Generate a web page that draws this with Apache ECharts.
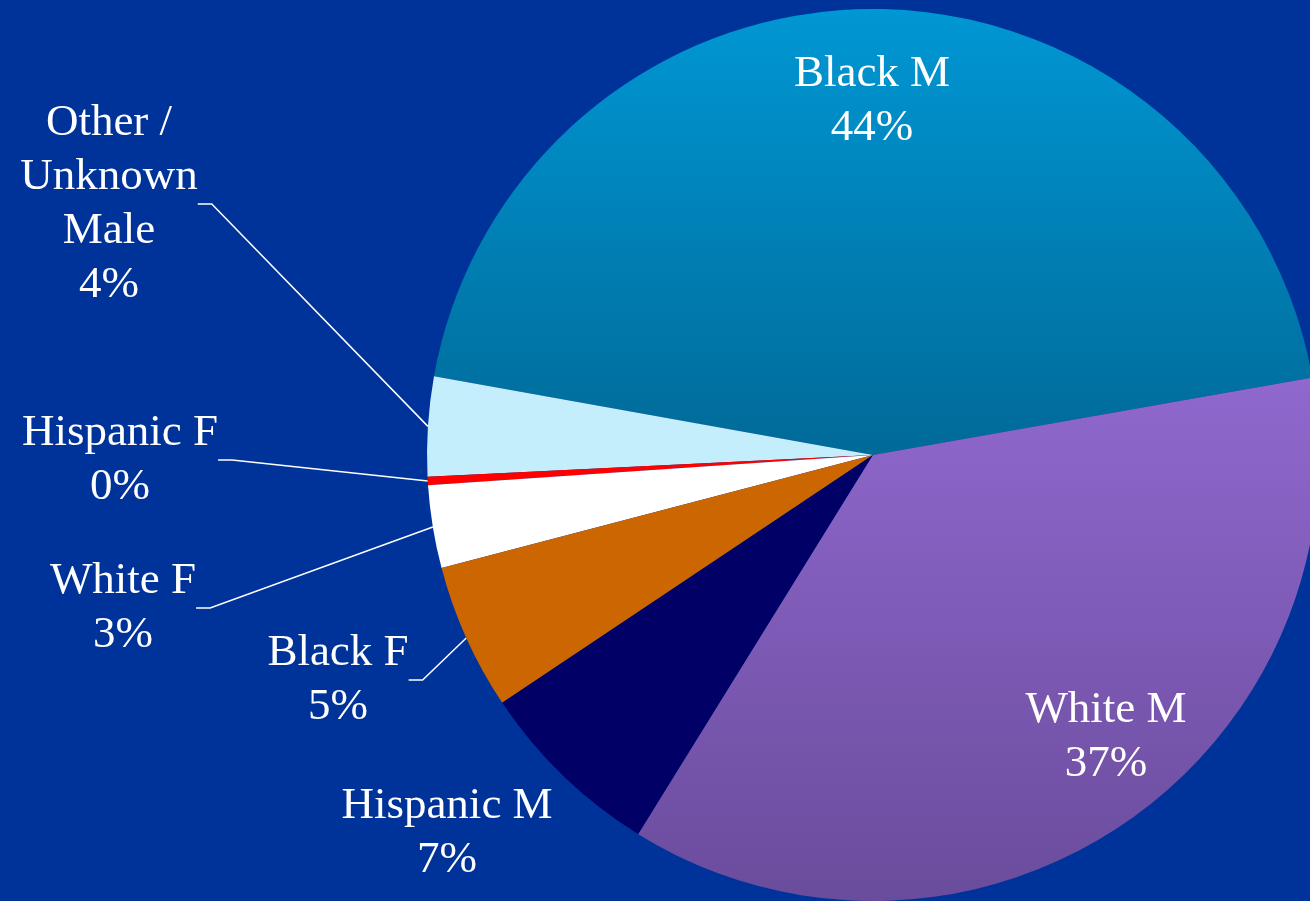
<!DOCTYPE html>
<html>
<head>
<meta charset="utf-8">
<script src="https://cdn.jsdelivr.net/npm/echarts@6/dist/echarts.min.js"></script>
<style>
  html, body { margin: 0; padding: 0; background: #003399; }
  #chart { width: 1310px; height: 901px; }
</style>
</head>
<body>
<div id="chart"></div>
<script>
// ---- data ----
const categories = ['Black M', 'Other /\nUnknown\nMale', 'Hispanic F', 'White F', 'Black F', 'Hispanic M', 'White M'];
const shares = [44.4, 3.6, 0.3, 3.0, 5.3, 6.8, 36.6];

// ---- styles / layout (not data) ----
const sliceColors = [
  { type: 'linear', x: 0, y: 0, x2: 0, y2: 1, colorStops: [{ offset: 0, color: '#0097D4' }, { offset: 1, color: '#006A98' }] },
  '#C5EEFC',
  '#FF0000',
  '#FFFFFF',
  '#CC6600',
  '#000066',
  { type: 'linear', x: 0, y: 0, x2: 0, y2: 1, colorStops: [{ offset: 0, color: '#9068CE' }, { offset: 1, color: '#6A4C9C' }] }
];
const labelCenters = [[872, 101], [109, 204], [120, 460], [123, 608], [338, 680], [447, 833], [1106, 737]];
const showLeader = [false, true, true, true, true, false, false];

const chart = echarts.init(document.getElementById('chart'), null, { renderer: 'canvas' });

const data = categories.map((name, i) => ({
  name,
  value: shares[i],
  itemStyle: { color: sliceColors[i] },
  labelLine: { show: showLeader[i] }
}));

chart.setOption({
  backgroundColor: '#003399',
  animation: false,
  series: [{
    type: 'pie',
    center: [873, 455],
    radius: 446,
    startAngle: 10,
    clockwise: false,
    avoidLabelOverlap: false,
    data,
    itemStyle: { borderWidth: 0 },
    label: {
      show: true,
      position: 'outside',
      color: '#FFFFFF',
      fontFamily: 'Liberation Serif',
      fontSize: 45,
      lineHeight: 54,
      formatter: p => p.name + '\n' + Math.round(p.percent) + '%'
    },
    labelLine: {
      show: true,
      length: 10,
      length2: 14,
      smooth: false,
      lineStyle: { color: '#FFFFFF', width: 1.5 }
    },
    labelLayout: params => {
      const c = labelCenters[params.dataIndex];
      return { x: c[0], y: c[1], align: 'center', verticalAlign: 'middle' };
    },
    emphasis: { disabled: true }
  }]
});
</script>
</body>
</html>
